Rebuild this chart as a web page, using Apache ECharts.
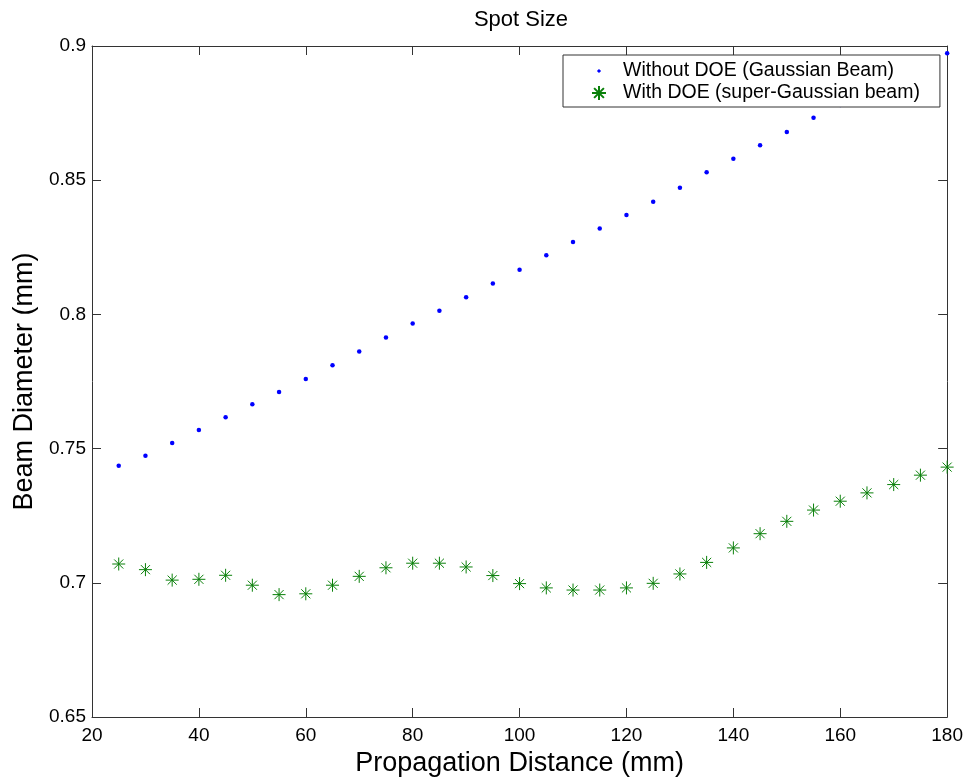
<!DOCTYPE html>
<html>
<head>
<meta charset="utf-8">
<title>Spot Size</title>
<script src="https://cdn.jsdelivr.net/npm/echarts@6/dist/echarts.min.js"></script>
<style>
  html, body { margin: 0; padding: 0; background: #fff; }
  #chart { width: 966px; height: 782px; }
</style>
</head>
<body>
<div id="chart"></div>
<script>
// Propagation distance (mm) at which the spot was measured
const distance = [25, 30, 35, 40, 45, 50, 55, 60, 65, 70, 75, 80, 85, 90, 95, 100,
                  105, 110, 115, 120, 125, 130, 135, 140, 145, 150, 155, 160, 165, 170, 175, 180];

// Beam diameter (mm) without the diffractive optical element
const withoutDOE = [0.7436, 0.7473, 0.7521, 0.7569, 0.7617, 0.7665, 0.7711, 0.7759,
                    0.7811, 0.7862, 0.7914, 0.7966, 0.8014, 0.8064, 0.8115, 0.8166,
                    0.8220, 0.8270, 0.8320, 0.8370, 0.8420, 0.8472, 0.8530, 0.8580,
                    0.8630, 0.8680, 0.8733, 0.8780, 0.8830, 0.8880, 0.8930, 0.8973];

// Beam diameter (mm) with the DOE (super-Gaussian profile)
const withDOE = [0.7070, 0.7049, 0.7010, 0.7013, 0.7028, 0.6991, 0.6956, 0.6959,
                 0.6991, 0.7024, 0.7056, 0.7073, 0.7073, 0.7059, 0.7027, 0.6997,
                 0.6981, 0.6973, 0.6973, 0.6981, 0.6998, 0.7033, 0.7076, 0.7130,
                 0.7183, 0.7229, 0.7271, 0.7304, 0.7335, 0.7366, 0.7401, 0.7431];

// Axis tick values
const xTicks = [20, 40, 60, 80, 100, 120, 140, 160, 180];
const yTicks = [0.65, 0.7, 0.75, 0.8, 0.85, 0.9];

const seriesNames = ['Without DOE (Gaussian Beam)', 'With DOE (super-Gaussian beam)'];

const FONT = 'Arial, "Liberation Sans", Helvetica, sans-serif';
const AXIS_COLOR = '#333';
const BLUE = '#0000ff';
const GREEN = '#0a800a';

// asterisk marker: + and x strokes combined
const ASTERISK = 'path://M0,-6L0,6M-6,0L6,0M-4.2,-4.2L4.2,4.2M-4.2,4.2L4.2,-4.2';
// small dot for the legend, padded so it stays small inside the icon box
const LEGEND_DOT = 'path://M0,0L0.01,0M14,14L14.01,14M4.9,7L7,4.9L9.1,7L7,9.1Z';

const xStep = xTicks[1] - xTicks[0];
const yStep = +(yTicks[1] - yTicks[0]).toFixed(4);

function pairs(xs, ys) {
  return xs.map((x, i) => [x, ys[i]]);
}

function xAxisBase(pos) {
  return {
    type: 'value',
    position: pos,
    min: xTicks[0],
    max: xTicks[xTicks.length - 1],
    interval: xStep,
    axisLine: { show: true, onZero: false, lineStyle: { color: AXIS_COLOR, width: 1 } },
    axisTick: { show: true, inside: true, length: 9, lineStyle: { color: AXIS_COLOR } },
    splitLine: { show: false }
  };
}

function yAxisBase(pos) {
  return {
    type: 'value',
    position: pos,
    min: yTicks[0],
    max: yTicks[yTicks.length - 1],
    interval: yStep,
    axisLine: { show: true, onZero: false, lineStyle: { color: AXIS_COLOR, width: 1 } },
    axisTick: { show: true, inside: true, length: 9, lineStyle: { color: AXIS_COLOR } },
    splitLine: { show: false }
  };
}

const chart = echarts.init(document.getElementById('chart'), null, { renderer: 'canvas' });

const option = {
  backgroundColor: '#fff',
  animation: false,
  title: {
    text: 'Spot Size',
    left: 516,
    top: 4,
    textAlign: 'center',
    textStyle: { fontFamily: FONT, fontSize: 22, fontWeight: 'normal', color: '#000' }
  },
  grid: { left: 92, right: 18, top: 46, bottom: 61, containLabel: false },
  legend: {
    orient: 'vertical',
    left: 563,
    top: 55,
    padding: [6, 20, 4, 28],
    itemGap: 2,
    itemWidth: 14,
    itemHeight: 14,
    backgroundColor: '#fff',
    borderColor: '#333',
    borderWidth: 1,
    borderRadius: 0,
    textStyle: { fontFamily: FONT, fontSize: 19.5, color: '#000', padding: [0, 0, 0, 12] },
    data: [
      { name: seriesNames[0], icon: LEGEND_DOT },
      { name: seriesNames[1], icon: ASTERISK }
    ]
  },
  xAxis: [
    Object.assign(xAxisBase('bottom'), {
      name: 'Propagation Distance (mm)',
      nameLocation: 'middle',
      nameGap: 33,
      nameTextStyle: { fontFamily: FONT, fontSize: 27, color: '#000' },
      axisLabel: { show: true, margin: 9, fontFamily: FONT, fontSize: 19, color: '#000' }
    }),
    Object.assign(xAxisBase('top'), { axisLabel: { show: false } })
  ],
  yAxis: [
    Object.assign(yAxisBase('left'), {
      name: 'Beam Diameter (mm)',
      nameLocation: 'middle',
      nameGap: 52,
      nameTextStyle: { fontFamily: FONT, fontSize: 27, color: '#000' },
      axisLabel: {
        show: true, margin: 6, fontFamily: FONT, fontSize: 19, color: '#000',
        formatter: v => String(+v.toFixed(2))
      }
    }),
    Object.assign(yAxisBase('right'), { axisLabel: { show: false } })
  ],
  series: [
    {
      name: seriesNames[0],
      type: 'scatter',
      xAxisIndex: 0,
      yAxisIndex: 0,
      symbol: 'circle',
      symbolSize: 4.5,
      itemStyle: { color: BLUE, opacity: 1 },
      data: pairs(distance, withoutDOE),
      z: 2
    },
    {
      name: seriesNames[1],
      type: 'scatter',
      xAxisIndex: 0,
      yAxisIndex: 0,
      symbol: ASTERISK,
      symbolSize: 13,
      itemStyle: { color: GREEN, borderColor: GREEN, borderWidth: 1, opacity: 1 },
      data: pairs(distance, withDOE),
      z: 2
    }
  ]
};

chart.setOption(option);
</script>
</body>
</html>
